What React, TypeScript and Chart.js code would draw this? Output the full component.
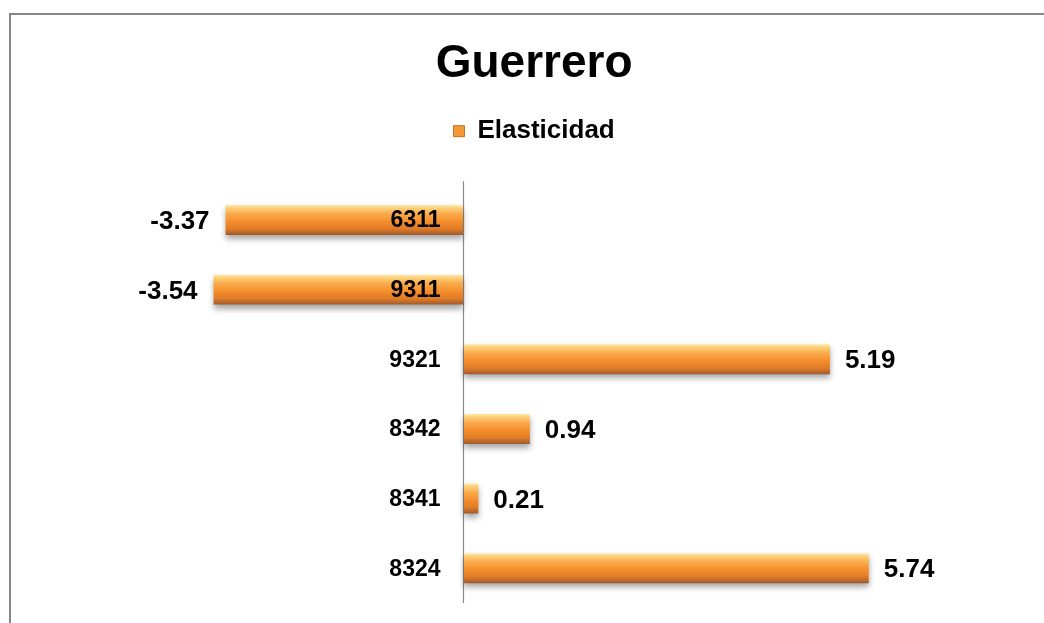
import React, { useEffect, useRef } from "react";
import { Chart, registerables } from "chart.js";

Chart.register(...registerables);

const chartTitle = "Guerrero";
const seriesName = "Elasticidad";
const categories = ["6311", "9311", "9321", "8342", "8341", "8324"];
const elasticidad = [-3.37, -3.54, 5.19, 0.94, 0.21, 5.74];
const xMin = -5;
const xMax = 7;

const FONT = "'Liberation Sans', Arial, sans-serif";
const BAR_PCT = 0.43;

function barGradient(ctx: any) {
  const chart = ctx.chart;
  const y = chart.scales && chart.scales.y;
  const area = chart.chartArea;
  if (!y || !area) return "#F39233";
  const c = chart.ctx;
  const band = (area.bottom - area.top) / categories.length;
  const center = y.getPixelForValue(ctx.dataIndex);
  const half = (band * BAR_PCT) / 2;
  const g = c.createLinearGradient(0, center - half, 0, center + half);
  g.addColorStop(0, "#FDE9B0");
  g.addColorStop(0.1, "#FDD07A");
  g.addColorStop(0.3, "#FAAA4A");
  g.addColorStop(0.55, "#F58E2C");
  g.addColorStop(0.8, "#DF7A27");
  g.addColorStop(0.92, "#B9682C");
  g.addColorStop(1, "#9C5A2A");
  return g;
}

const framePlugin = {
  id: "frame",
  beforeDraw(chart: any) {
    const c = chart.ctx;
    c.save();
    c.fillStyle = "#ffffff";
    c.fillRect(0, 0, chart.width, chart.height);
    c.strokeStyle = "#878787";
    c.lineWidth = 2;
    c.strokeRect(10, 14, chart.width + 20, chart.height + 20);
    c.restore();
  },
};

const axisPlugin = {
  id: "zeroAxis",
  beforeDatasetsDraw(chart: any) {
    const c = chart.ctx;
    const x = chart.scales.x.getPixelForValue(0);
    const area = chart.chartArea;
    c.save();
    c.strokeStyle = "#8a8a8a";
    c.lineWidth = 1.2;
    c.beginPath();
    c.moveTo(Math.round(x) - 0.5, area.top - 4);
    c.lineTo(Math.round(x) - 0.5, area.bottom);
    c.stroke();
    c.restore();
  },
};

const shadowPlugin = {
  id: "barShadow",
  beforeDatasetDraw(chart: any) {
    const c = chart.ctx;
    c.save();
    c.shadowColor = "rgba(0,0,0,0.35)";
    c.shadowBlur = 6;
    c.shadowOffsetX = 0;
    c.shadowOffsetY = 4;
  },
  afterDatasetDraw(chart: any) {
    chart.ctx.restore();
  },
};

const labelsPlugin = {
  id: "barLabels",
  afterDatasetsDraw(chart: any) {
    const c = chart.ctx;
    const xs = chart.scales.x;
    const ys = chart.scales.y;
    const zero = xs.getPixelForValue(0);
    const labels = chart.data.labels as string[];
    const data = chart.data.datasets[0].data as number[];
    c.save();
    c.fillStyle = "#000000";
    c.textBaseline = "middle";
    labels.forEach((lab, i) => {
      const yc = ys.getPixelForValue(i) + 1;
      c.font = `bold 23px ${FONT}`;
      c.textAlign = "right";
      c.fillText(lab, zero - 23, yc);
      const v = data[i];
      const xe = xs.getPixelForValue(v);
      c.font = `bold 26px ${FONT}`;
      if (v < 0) {
        c.textAlign = "right";
        c.fillText(v.toFixed(2), xe - 16, yc + 1);
      } else {
        c.textAlign = "left";
        c.fillText(v.toFixed(2), xe + 15, yc + 1);
      }
    });
    c.restore();
  },
};

export default function App() {
  const ref = useRef<HTMLCanvasElement | null>(null);
  useEffect(() => {
    if (!ref.current) return;
    const chart = new Chart(ref.current, {
      type: "bar",
      data: {
        labels: categories,
        datasets: [
          {
            label: seriesName,
            data: elasticidad,
            backgroundColor: barGradient as any,
            borderWidth: 0,
            categoryPercentage: 1,
            barPercentage: BAR_PCT,
          },
        ],
      },
      options: {
        indexAxis: "y",
        responsive: false,
        animation: false,
        devicePixelRatio: 1,
        layout: { padding: { top: 0, left: 110.5, right: 86.3, bottom: 20 } },
        scales: {
          x: {
            type: "linear",
            position: "top",
            min: xMin,
            max: xMax,
            display: true,
            ticks: { display: false },
            grid: {
              display: true,
              drawOnChartArea: false,
              drawTicks: true,
              tickLength: 31,
              color: "rgba(0,0,0,0)",
            },
            border: { display: false },
          },
          y: {
            type: "category",
            display: false,
          },
        },
        plugins: {
          title: {
            display: true,
            text: chartTitle,
            color: "#000000",
            font: { family: FONT, size: 46, weight: "bold" },
            padding: { top: 37, bottom: 16 },
          },
          legend: {
            display: true,
            position: "top",
            labels: {
              color: "#000000",
              font: { family: FONT, size: 26, weight: "bold" },
              boxWidth: 11,
              boxHeight: 11,
              padding: 10,
              generateLabels: () => [
                {
                  text: seriesName,
                  fillStyle: "#F39A38",
                  strokeStyle: "#C0702C",
                  lineWidth: 1,
                  hidden: false,
                  datasetIndex: 0,
                } as any,
              ],
            },
          },
          tooltip: { enabled: false },
        },
      },
      plugins: [framePlugin, axisPlugin, shadowPlugin, labelsPlugin],
    });
    return () => chart.destroy();
  }, []);
  return (
    <div style={{ position: "fixed", left: 0, top: 0, width: 1044, height: 623, background: "#fff" }}>
      <canvas ref={ref} width={1044} height={623} style={{ display: "block" }} />
    </div>
  );
}
